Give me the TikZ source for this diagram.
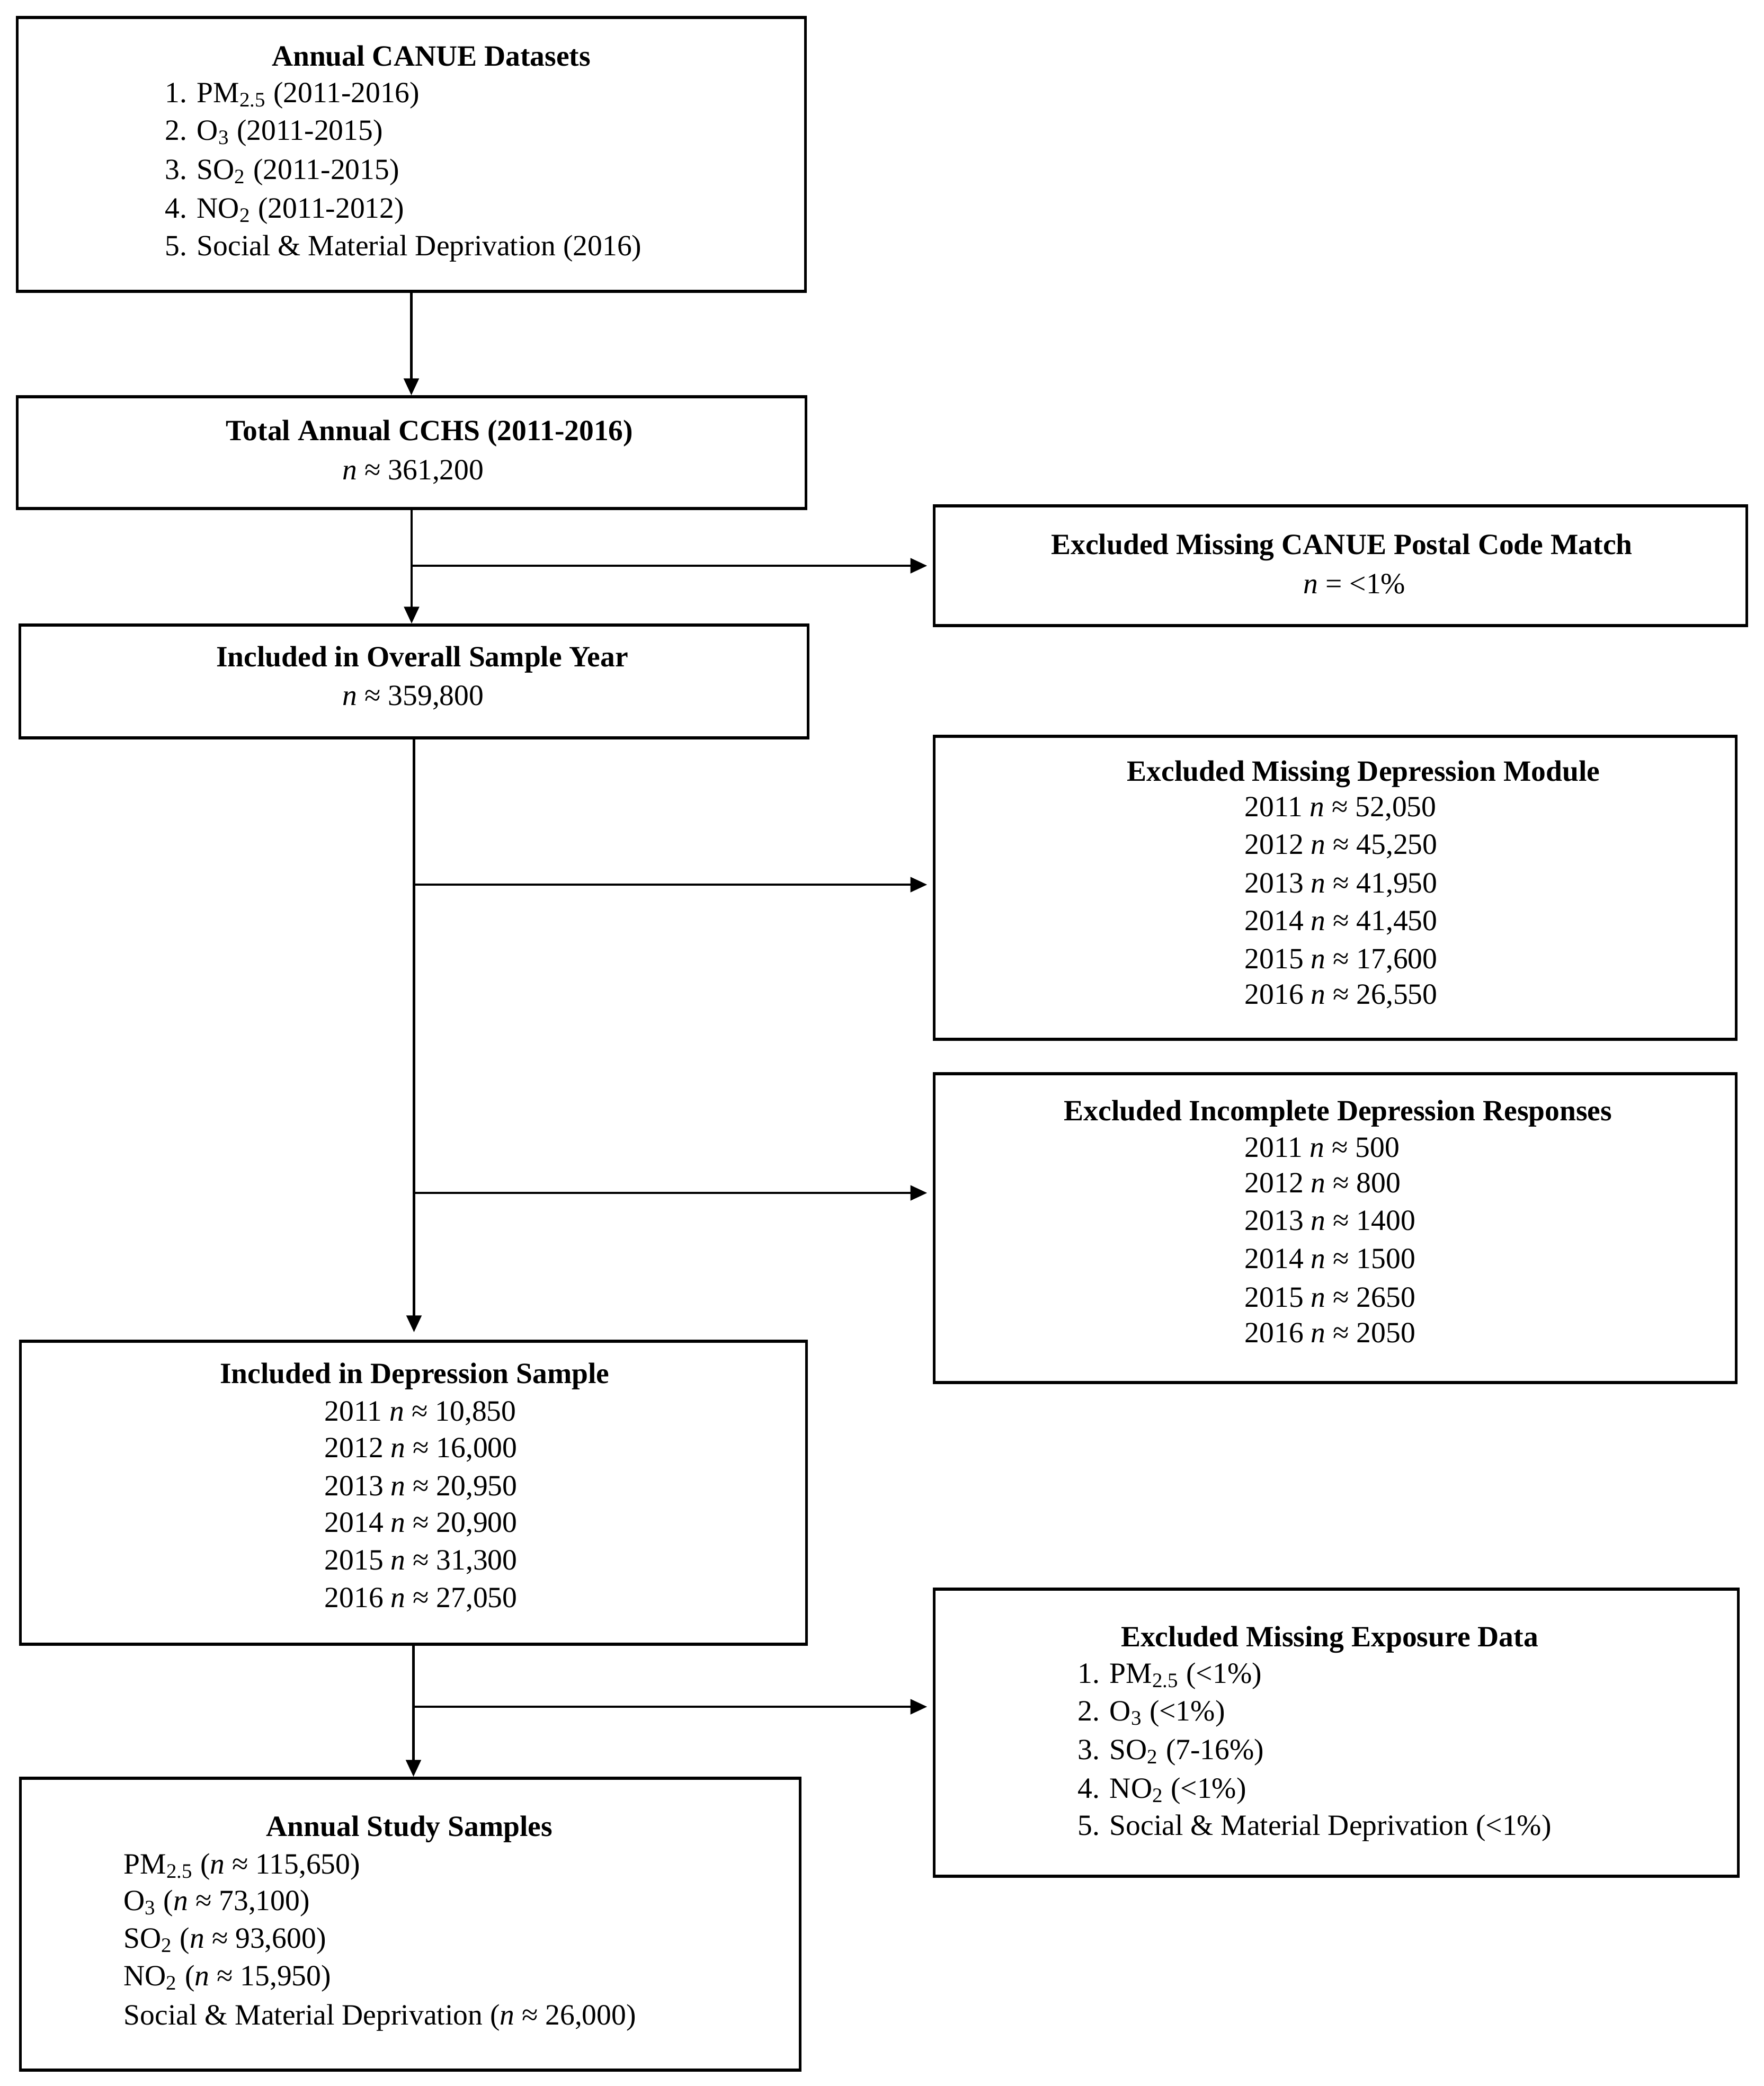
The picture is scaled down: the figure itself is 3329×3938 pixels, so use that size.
\documentclass[tikz,border=0pt]{standalone}
\usepackage{fontspec}
\setmainfont{Liberation Serif}
\usetikzlibrary{arrows.meta}
\newcommand{\nn}{\textit{n}}
\newcommand{\PMt}{PM\textsubscript{2.5}}
\newcommand{\Ot}{O\textsubscript{3}}
\newcommand{\SOt}{SO\textsubscript{2}}
\newcommand{\NOt}{NO\textsubscript{2}}
\begin{document}
\begin{tikzpicture}[x=0.01cm,y=-0.01cm,
  box/.style={draw, line width=1.6pt, rectangle, inner sep=0pt},
  conn/.style={line width=1.3pt},
  arr/.style={conn, -{Triangle[length=9pt,width=8pt]}},
  ttl/.style={anchor=mid, yshift=-0.05cm, inner sep=0pt, font=\fontsize{15.8}{20}\selectfont\bfseries},
  ln/.style={anchor=mid west, yshift=-0.05cm, inner sep=0pt, font=\fontsize{15.8}{20}\selectfont},
  lnc/.style={anchor=mid, yshift=-0.05cm, inner sep=0pt, font=\fontsize{15.8}{20}\selectfont}]
\fill[white] (0,0) rectangle (3329,3938);
\useasboundingbox (0,0) rectangle (3329,3938);

% boxes
\node[box, minimum width=14.87cm, minimum height=5.17cm] (b1) at (776.5,291.5) {};
\node[box, minimum width=14.88cm, minimum height=2.11cm] (b2) at (777,854.5) {};
\node[box, minimum width=15.33cm, minimum height=2.26cm] (b3) at (2530.5,1068) {};
\node[box, minimum width=14.87cm, minimum height=2.13cm] (b4) at (781.5,1286.5) {};
\node[box, minimum width=15.13cm, minimum height=5.72cm] (b6) at (2520.5,1676) {};
\node[box, minimum width=15.13cm, minimum height=5.83cm] (b7) at (2520.5,2318.5) {};
\node[box, minimum width=14.83cm, minimum height=5.72cm] (b5) at (780.5,2818) {};
\node[box, minimum width=15.17cm, minimum height=5.42cm] (b8) at (2522.5,3271) {};
\node[box, minimum width=14.71cm, minimum height=5.51cm] (b9) at (774.5,3632.5) {};

% box 1
\node[ttl] (t1) at (814,111) {Annual CANUE Datasets};
\foreach \y/\t [count=\i] in {180/{1. \PMt{} (2011-2016)}, 251/{2. \Ot{} (2011-2015)}, 325/{3. \SOt{} (2011-2015)}, 398/{4. \NOt{} (2011-2012)}, 469/{5. Social \& Material Deprivation (2016)}}
  \node[ln] (l1-\i) at (311,\y) {\t};

% box 2
\node[ttl] (t2) at (811,818) {Total Annual CCHS (2011-2016)};
\node[lnc] (n2) at (780,892) {\nn{} ≈ 361,200};

% box 3
\node[ttl] (t3) at (2533,1033) {Excluded Missing CANUE Postal Code Match};
\node[lnc] (n3) at (2557,1107) {\nn{} = <1\%};

% box 4
\node[ttl] (t4) at (797,1245) {Included in Overall Sample Year};
\node[lnc] (n4) at (780,1318) {\nn{} ≈ 359,800};

% box 6
\node[ttl] (t6) at (2574,1461) {Excluded Missing Depression Module};
\foreach \y/\t [count=\i] in {1528/{2011 \nn{} ≈ 52,050}, 1599/{2012 \nn{} ≈ 45,250}, 1672/{2013 \nn{} ≈ 41,950}, 1743/{2014 \nn{} ≈ 41,450}, 1815/{2015 \nn{} ≈ 17,600}, 1882/{2016 \nn{} ≈ 26,550}}
  \node[ln] (l6-\i) at (2349,\y) {\t};

% box 7
\node[ttl] (t7) at (2526,2102) {Excluded Incomplete Depression Responses};
\foreach \y/\t [count=\i] in {2171/{2011 \nn{} ≈ 500}, 2238/{2012 \nn{} ≈ 800}, 2309/{2013 \nn{} ≈ 1400}, 2381/{2014 \nn{} ≈ 1500}, 2454/{2015 \nn{} ≈ 2650}, 2521/{2016 \nn{} ≈ 2050}}
  \node[ln] (l7-\i) at (2349,\y) {\t};

% box 5
\node[ttl] (t5) at (783,2598) {Included in Depression Sample};
\foreach \y/\t [count=\i] in {2669/{2011 \nn{} ≈ 10,850}, 2738/{2012 \nn{} ≈ 16,000}, 2810/{2013 \nn{} ≈ 20,950}, 2879/{2014 \nn{} ≈ 20,900}, 2950/{2015 \nn{} ≈ 31,300}, 3021/{2016 \nn{} ≈ 27,050}}
  \node[ln] (l5-\i) at (612,\y) {\t};

% box 8
\node[ttl] (t8) at (2510,3095) {Excluded Missing Exposure Data};
\foreach \y/\t [count=\i] in {3164/{1. \PMt{} (<1\%)}, 3235/{2. \Ot{} (<1\%)}, 3308/{3. \SOt{} (7-16\%)}, 3381/{4. \NOt{} (<1\%)}, 3451/{5. Social \& Material Deprivation (<1\%)}}
  \node[ln] (l8-\i) at (2034,\y) {\t};

% box 9
\node[ttl] (t9) at (773,3453) {Annual Study Samples};
\foreach \y/\t [count=\i] in {3524/{\PMt{} (\nn{} ≈ 115,650)}, 3593/{\Ot{} (\nn{} ≈ 73,100)}, 3664/{\SOt{} (\nn{} ≈ 93,600)}, 3735/{\NOt{} (\nn{} ≈ 15,950)}, 3809/{Social \& Material Deprivation (\nn{} ≈ 26,000)}}
  \node[ln] (l9-\i) at (233,\y) {\t};

% connectors
\draw[arr] (b1.south) -- (b1.south |- b2.north);
\draw[arr] (b2.south) -- (b2.south |- b4.north);
\coordinate (j3) at (777,1068);
\draw[arr, shorten >=3pt] (j3) -- (b3.west);

\draw[arr, shorten >=4pt] (b4.south) -- (b4.south |- b5.north);
\coordinate (j6) at (781,1670);
\coordinate (j7) at (781,2252);
\draw[arr, shorten >=3pt] (j6) -- (j6 -| b6.west);
\draw[arr, shorten >=3pt] (j7) -- (j7 -| b7.west);

\draw[arr] (b5.south) -- (b5.south |- b9.north);
\coordinate (j8) at (781,3222);
\draw[arr, shorten >=3pt] (j8) -- (j8 -| b8.west);
\end{tikzpicture}
\end{document}
